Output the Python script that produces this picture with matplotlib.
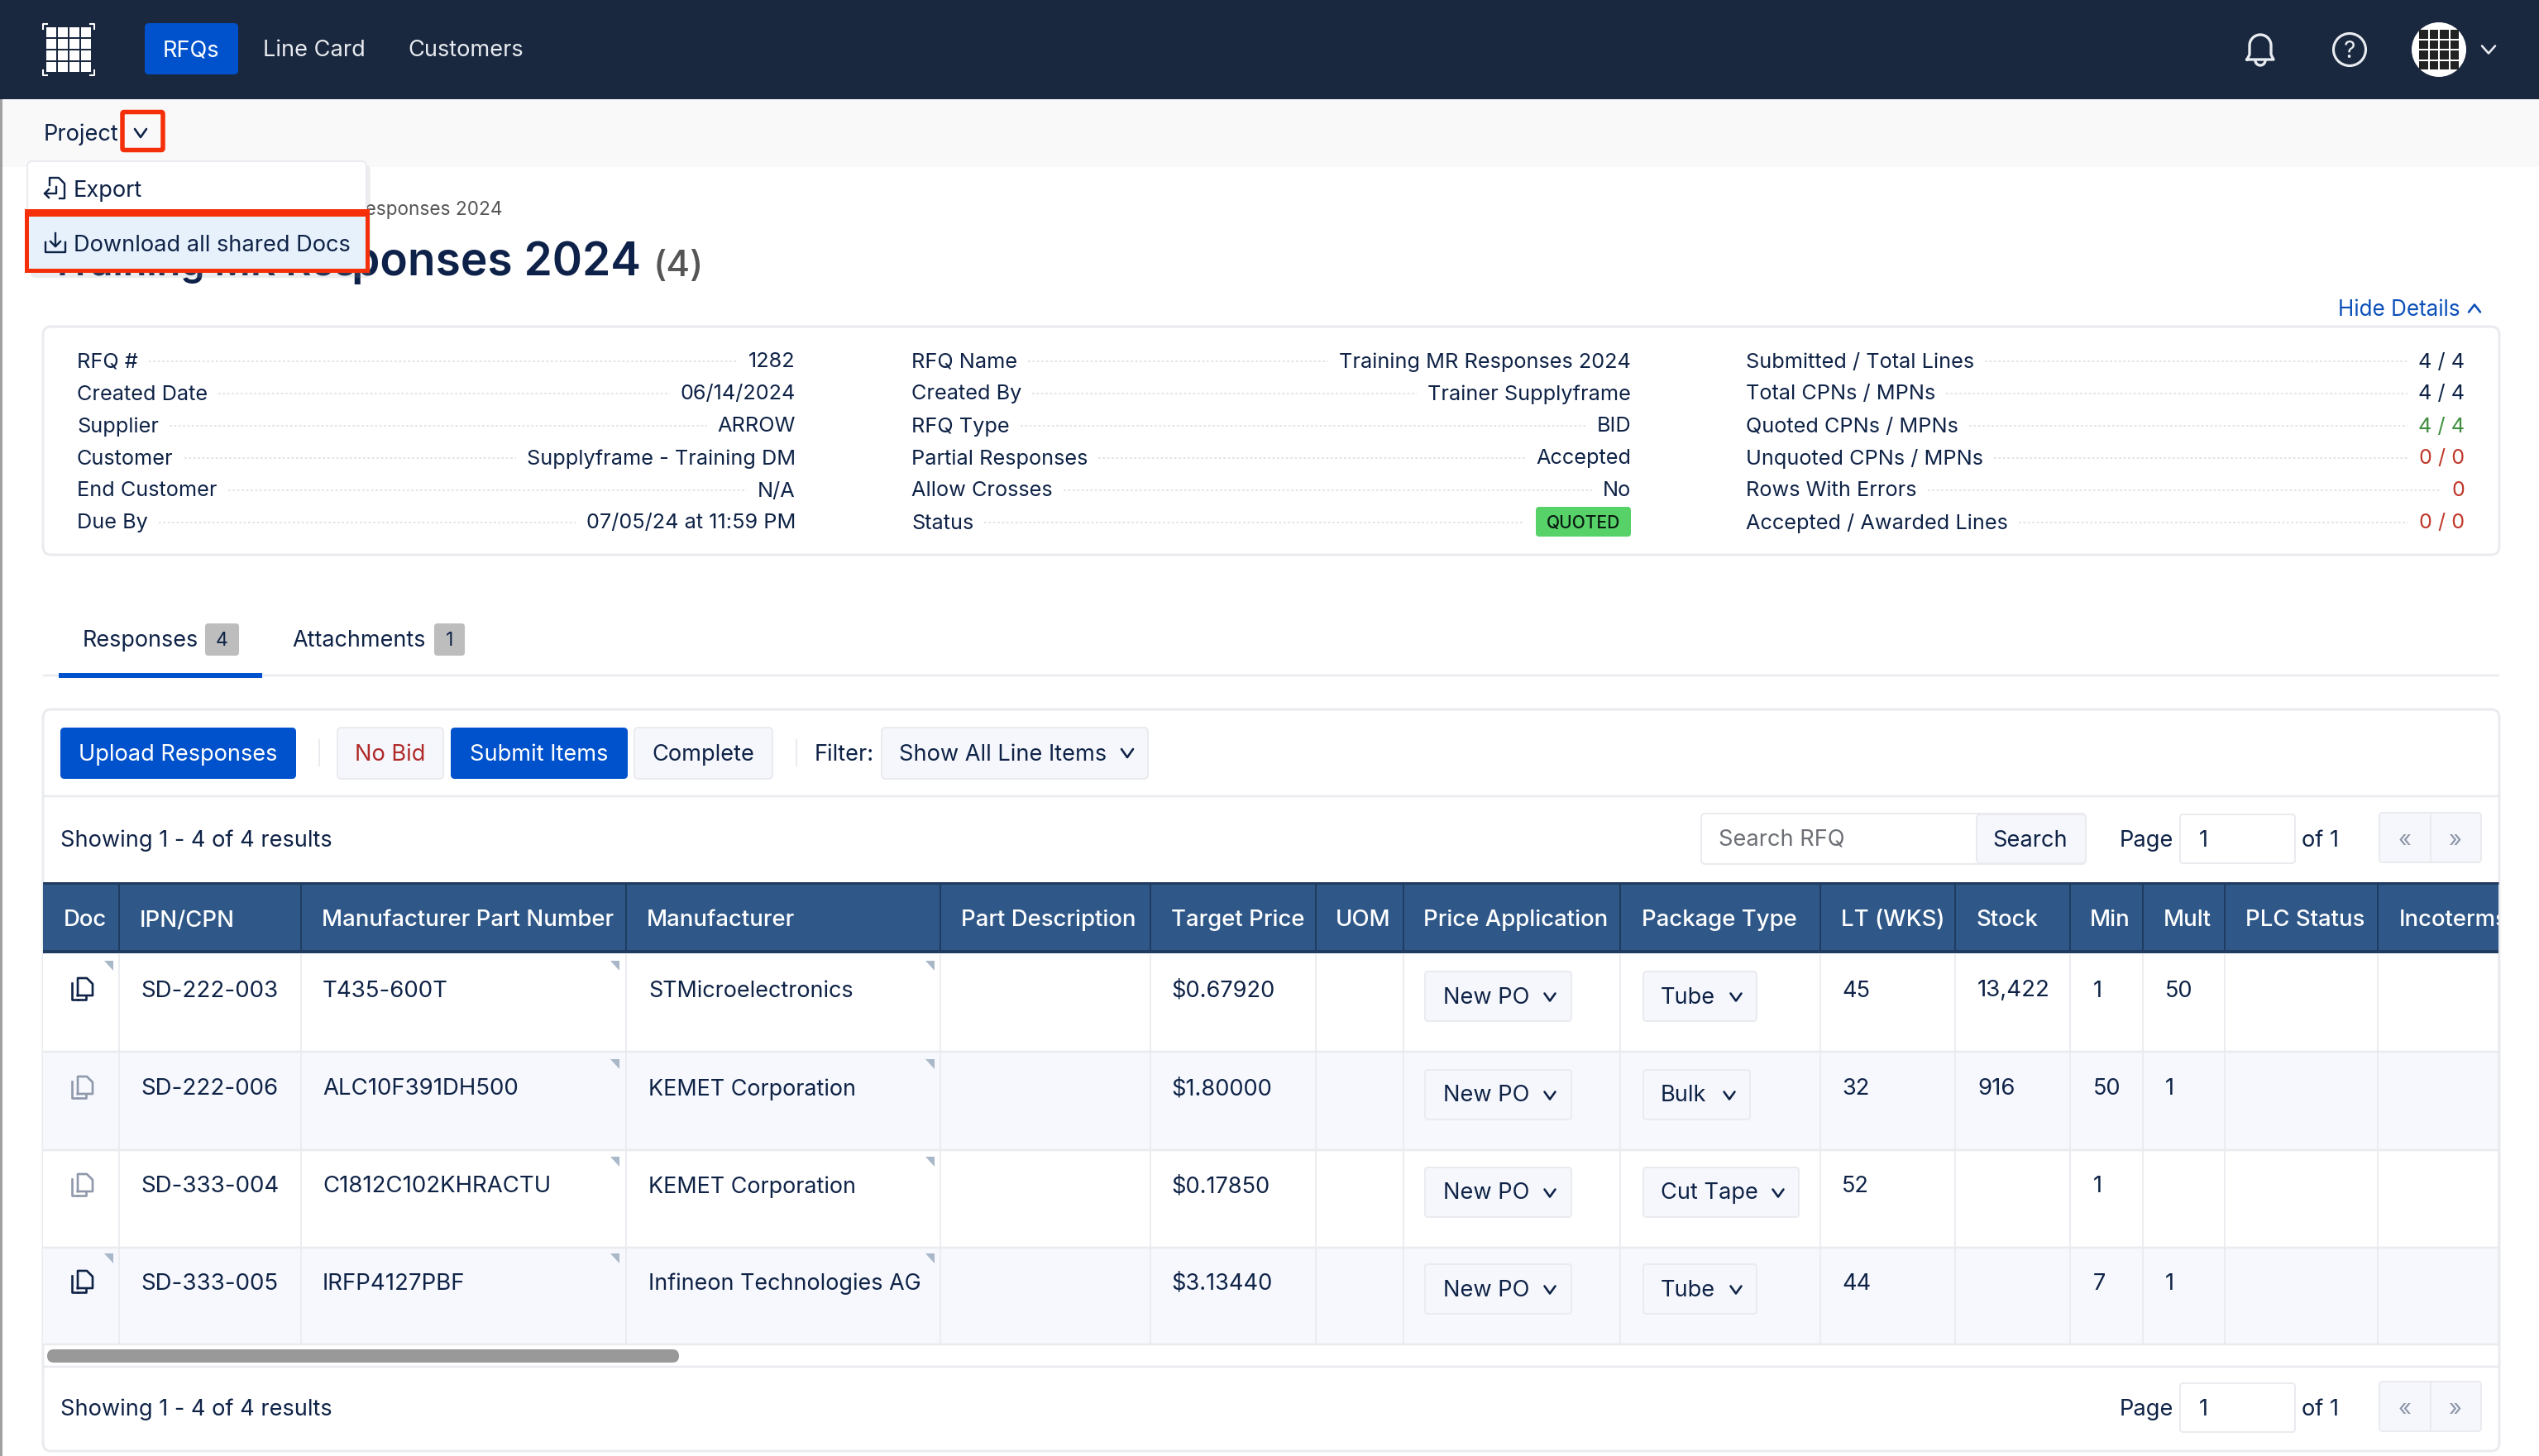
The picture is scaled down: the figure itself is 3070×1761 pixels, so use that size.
import numpy as np
import matplotlib
matplotlib.use("Agg")
import matplotlib.pyplot as plt
from matplotlib.patches import FancyBboxPatch, Rectangle, Circle, Polygon

# page content
nav_items = ["RFQs", "Line Card", "Customers"]
menu_items = ["Export", "Download all shared Docs"]
breadcrumb = "Training MR Responses 2024"
title_hidden = "Training MR Res"
title_visible = "ponses 2024"
title_count = "(4)"

detail_labels_1 = ["RFQ #", "Created Date", "Supplier", "Customer", "End Customer", "Due By"]
detail_values_1 = ["1282", "06/14/2024", "ARROW", "Supplyframe - Training DM", "N/A", "07/05/24 at 11:59 PM"]
detail_labels_2 = ["RFQ Name", "Created By", "RFQ Type", "Partial Responses", "Allow Crosses", "Status"]
detail_values_2 = ["Training MR Responses 2024", "Trainer Supplyframe", "BID", "Accepted", "No", "QUOTED"]
detail_labels_3 = ["Submitted / Total Lines", "Total CPNs / MPNs", "Quoted CPNs / MPNs",
                   "Unquoted CPNs / MPNs", "Rows With Errors", "Accepted / Awarded Lines"]
detail_values_3 = ["4 / 4", "4 / 4", "4 / 4", "0 / 0", "0", "0 / 0"]

columns = ["Doc", "IPN/CPN", "Manufacturer Part Number", "Manufacturer", "Part Description", "Target Price",
           "UOM", "Price Application", "Package Type", "LT (WKS)", "Stock", "Min", "Mult", "PLC Status", "Incoterms"]
ipn = ["SD-222-003", "SD-222-006", "SD-333-004", "SD-333-005"]
mpn = ["T435-600T", "ALC10F391DH500", "C1812C102KHRACTU", "IRFP4127PBF"]
manufacturer = ["STMicroelectronics", "KEMET Corporation", "KEMET Corporation", "Infineon Technologies AG"]
target_price = ["$0.67920", "$1.80000", "$0.17850", "$3.13440"]
price_app = ["New PO", "New PO", "New PO", "New PO"]
package = ["Tube", "Bulk", "Cut Tape", "Tube"]
lead_time = ["45", "32", "52", "44"]
stock = ["13,422", "916", "", ""]
min_qty = ["1", "50", "1", "7"]
mult = ["50", "1", "", "1"]
doc_dark = [True, False, False, True]

# layout, in screen pixels
col_edges = [52, 144, 364, 757, 1137, 1391, 1591, 1697, 1959, 2201, 2364, 2503, 2591, 2690, 2875, 3021]
head_x = [77, 169, 389, 782, 1162, 1416, 1615, 1721, 1985, 2226, 2389, 2527, 2616, 2715, 2901]
row_tops = [1154, 1273, 1391, 1508]
row_h = 118
package_right = [2124, 2116, 2175, 2124]

INK = "#0f2347"
LINE = "#e9ebef"
BLUE = "#0052cc"
RED = "#f52f0a"
BTN = "#f5f7fc"
BODY = 27.2
DETAIL = 25.3

plt.rcParams["font.family"] = ["Inter", "Noto Sans", "DejaVu Sans"]
fig = plt.figure(figsize=(30.70, 17.61), dpi=100, facecolor="white")
ax = fig.add_axes([0, 0, 1, 1])
ax.set_xlim(0, 3070)
ax.set_ylim(1761, 0)
ax.axis("off")


def label(x, y, s, size=BODY, color=INK, ha="left", weight="normal", z=5):
    return ax.text(x, y - 1.5, s, fontsize=size * 0.72, color=color, ha=ha, va="center_baseline",
                   fontweight=weight, zorder=z)


def box(x0, y0, x1, y1, fc="white", ec="none", r=4, lw=2, z=2):
    p = FancyBboxPatch((x0, y0), x1 - x0, y1 - y0, boxstyle="round,pad=0,rounding_size=%g" % r,
                       fc=fc, ec=ec, lw=lw * 0.72, zorder=z)
    ax.add_patch(p)
    return p


def hline(x0, x1, y, color=LINE, lw=2, z=3, **kw):
    ax.plot([x0, x1], [y, y], color=color, lw=lw * 0.72, zorder=z, solid_capstyle="butt", **kw)


def vline(x, y0, y1, color=LINE, lw=2, z=3):
    ax.plot([x, x], [y0, y1], color=color, lw=lw * 0.72, zorder=z, solid_capstyle="butt")


def chevron(x, y, w=8, h=5, color=INK, lw=2.6, up=False, z=6):
    s = -1 if up else 1
    ax.plot([x - w, x, x + w], [y - s * h, y + s * h, y - s * h], color=color, lw=lw * 0.72, zorder=z,
            solid_capstyle="round", solid_joinstyle="round")


def doc_icon(x, y, color, z=6):
    # two stacked pages
    ax.plot([x - 5, x - 5, x + 6, x + 13, x + 13, x - 5], [y + 8, y - 13, y - 13, y - 6, y + 8, y + 8],
            color=color, lw=1.9, zorder=z)
    ax.plot([x - 12, x - 12, x - 5], [y - 7, y + 13, y + 13], color=color, lw=1.9, zorder=z)
    ax.plot([x - 5, x + 5, x + 5], [y + 13, y + 13, y + 8], color=color, lw=1.9, zorder=z)


def pager(y):
    label(2563, y, "Page")
    box(2636, y - 30, 2775, y + 29, ec=LINE)
    label(2659, y, "1")
    label(2783, y, "of 1")
    box(2877, y - 32, 3000, y + 28, fc=BTN, ec=LINE)
    vline(2939, y - 32, y + 28)
    label(2908, y, "«", color="#8d97a8", ha="center")
    label(2969, y, "»", color="#8d97a8", ha="center")


# nav bar
ax.add_patch(Rectangle((0, 0), 3070, 120, fc="#19273f", ec="none", zorder=1))
ax.add_patch(Rectangle((0, 120), 3070, 82, fc="#f9f9f9", ec="none", zorder=1))
ax.add_patch(Rectangle((0, 120), 2.5, 1641, fc="#a0a0a0", ec="none", zorder=4))

for i in range(4):
    for j in range(4):
        ax.add_patch(Rectangle((56 + i * 14, 33 + j * 14), 11.5, 11.5, fc="white", ec="none", zorder=3))
for cx, cy, dx, dy in [(52, 29, 1, 1), (114, 29, -1, 1), (52, 91, 1, -1), (114, 91, -1, -1)]:
    ax.plot([cx + dx * 5, cx, cx], [cy, cy, cy + dy * 6], color="white", lw=1.5, zorder=3)

box(175, 28, 288, 90, fc=BLUE, r=5)
label(231, 60, nav_items[0], color="white", ha="center")
label(318, 60, nav_items[1], color="#e8ebf0")
label(493, 60, nav_items[2], color="#e8ebf0")

# bell
t = np.linspace(np.pi, 2 * np.pi, 30)
bx = np.concatenate([[2717], [2720], 2733 + 13 * np.cos(t), [2746], [2749], [2717]])
by = np.concatenate([[72], [66], 55 + 13 * np.sin(t), [66], [72], [72]])
ax.plot(bx, by, color="#e8ebf0", lw=2.4, zorder=3, solid_joinstyle="round")
t = np.linspace(0, np.pi, 20)
ax.plot(2733 + 6 * np.cos(t), 73 + 6 * np.sin(t), color="#e8ebf0", lw=2.4, zorder=3)

ax.add_patch(Circle((2841, 60), 19.5, fc="none", ec="#e8ebf0", lw=2.4 * 0.72 * 1.3, zorder=3))
label(2841, 61, "?", size=28, color="#e8ebf0", ha="center")

ax.add_patch(Circle((2949, 60), 33, fc="white", ec="none", zorder=3))
for i in range(4):
    for j in range(4):
        ax.add_patch(Rectangle((2925 + i * 12.5, 36 + j * 12.5), 10.5, 10.5, fc="#222222", ec="none", zorder=4))
chevron(3009, 60, w=8, h=4.5, color="#e8ebf0")

# project menu
label(53, 161, "Project", z=7)
chevron(170, 161, w=7, h=5)
box(148, 135.5, 197, 181.5, fc="none", ec=RED, r=2, lw=5.5, z=8)

label(608, 253, breadcrumb, size=22.6, color="#555555", ha="right", z=2)
title_base = 333
ax.text(60, title_base, title_hidden, fontsize=47 * 0.72, color="#0d2149", ha="left", va="baseline",
        fontweight="semibold", zorder=2)
ax.text(775, title_base, title_visible, fontsize=55 * 0.72, color="#0d2149", ha="right", va="baseline",
        fontweight="semibold", zorder=2)
label(790, 319, title_count, size=44, color="#555555", weight="medium", z=2)
label(2827, 373, "Hide Details", size=26, color="#0b4fb8")
chevron(2992, 373, w=7, h=4.5, color="#0b4fb8", up=True)

box(37, 200, 448, 336, fc="#9aa0aa", r=6, z=5).set_alpha(0.18)
box(33, 195, 443, 327, fc="white", ec=LINE, r=6, z=6)
ax.add_patch(Rectangle((30, 253), 417, 77, fc=RED, ec="none", zorder=6.5))
ax.add_patch(Rectangle((35, 262), 407, 63, fc="#e6f1fc", ec="none", zorder=6.6))
# export icon
ax.plot([60, 60, 71, 78, 78, 72], [224, 215, 215, 222, 240, 240], color=INK, lw=1.7, zorder=7)
ax.plot([68, 68, 54], [226, 234, 234], color=INK, lw=1.7, zorder=7)
ax.plot([59, 54, 59], [229, 234, 239], color=INK, lw=1.7, zorder=7)
# download icon
ax.plot([55, 55, 79, 79], [293, 305, 305, 293], color=INK, lw=1.7, zorder=7)
ax.plot([67, 67], [282, 298], color=INK, lw=1.7, zorder=7)
ax.plot([61, 67, 73], [292, 298, 292], color=INK, lw=1.7, zorder=7)
label(89, 230, menu_items[0], z=7)
label(89, 295, menu_items[1], z=7)

# details panel
box(52, 395, 3022, 671, ec=LINE, r=10, lw=3, z=1)
fig.canvas.draw()
renderer = fig.canvas.get_renderer()
detail_cols = [(93, 962, detail_labels_1, detail_values_1),
               (1102, 1972, detail_labels_2, detail_values_2),
               (2111, 2980, detail_labels_3, detail_values_3)]
row_ys = [437, 476, 515, 554, 593, 632]
for x0, x1, names, values in detail_cols:
    for y, name, val in zip(row_ys, names, values):
        a = label(x0, y, name, size=DETAIL)
        color = INK
        if names is detail_labels_3:
            if name.startswith("Quoted"):
                color = "#3f8f3f"
            elif val.startswith("0"):
                color = "#c0392b"
        if val == "QUOTED":
            box(1857, 613, 1972, 649, fc="#57d268", r=4)
            label(1914.5, 632, val, size=21, color="#0a1a12", ha="center", weight="medium")
            right = 1843
        else:
            b = label(x1, y, val, size=DETAIL, ha="right", color=color)
            right = ax.transData.inverted().transform(b.get_window_extent(renderer))[0][0] - 13
        left = ax.transData.inverted().transform(a.get_window_extent(renderer))[1][0] + 13
        hline(left, right, y, color="#dfe1e6", lw=1.8, z=2, linestyle=(0, (1.5, 1.5)))

# tabs
label(100, 773, "Responses", size=27)
box(248, 754, 289, 793, fc="#bdbdbd", r=4)
label(268.5, 774, "4", size=23, ha="center")
label(353, 773, "Attachments", size=27)
box(525, 754, 562, 793, fc="#bdbdbd", r=4)
label(543.5, 774, "1", size=23, ha="center")
hline(52, 3022, 817, lw=2.5)
ax.add_patch(Rectangle((71, 814), 246, 6, fc=BLUE, ec="none", zorder=4))

# table card and toolbar
box(52, 858, 3022, 1755, ec=LINE, r=10, lw=3, z=1)
box(73, 880, 358, 942, fc=BLUE, r=5)
label(215.5, 911, "Upload Responses", color="white", ha="center")
vline(386, 894, 927)
box(408, 880, 536, 942, fc=BTN, ec=LINE, r=5)
label(472, 911, "No Bid", color="#b02a2a", ha="center")
box(545, 880, 759, 942, fc=BLUE, r=5)
label(652, 911, "Submit Items", color="white", ha="center")
box(767, 880, 934, 942, fc=BTN, ec=LINE, r=5)
label(850.5, 911, "Complete", ha="center")
vline(963, 894, 927)
label(985, 911, "Filter:")
box(1066, 880, 1388, 942, fc=BTN, ec=LINE, r=5)
label(1087, 911, "Show All Line Items", size=27.2)
chevron(1363, 911, w=7, h=5)
hline(52, 3022, 963, lw=2.5)

label(73, 1015, "Showing 1 - 4 of 4 results")
box(2057, 984, 2522, 1045, ec=LINE, r=5)
box(2390, 985, 2522, 1044, fc=BTN, ec=LINE, r=5)
label(2078, 1014, "Search RFQ", color="#6c6f75")
label(2455, 1015, "Search", ha="center")
pager(1015)

# table
for top, i in zip(row_tops, range(4)):
    ax.add_patch(Rectangle((52, top), 2969, row_h, fc="#f6f8fd" if i % 2 else "white", ec="none", zorder=1.5))
    hline(52, 3021, top + row_h, lw=2.5)
for x in col_edges[1:]:
    vline(x, 1154, 1627, lw=1.8)

ax.add_patch(Rectangle((52, 1067), 2969, 85, fc="#2f5889", ec="none", zorder=3))
hline(52, 3021, 1068, color="#1f3c60", lw=3, z=4)
hline(52, 3021, 1151, color="#1f3c60", lw=4, z=4)
for x in col_edges[1:-1]:
    vline(x, 1067, 1151, color="#1f3c60", lw=2, z=4)
clip = Rectangle((52, 1060), 2969, 100, transform=ax.transData)
for x, name in zip(head_x, columns):
    h = label(x, 1112, name, size=27.5, color="white", weight="medium")
    h.set_clip_path(clip)
    h.set_clip_on(True)

text_cols = [(ipn, 170, 27.7), (mpn, 390, 27.6), (manufacturer, 784, 26.9), (target_price, 1416, 27.2),
             (lead_time, 2227, 27.2), (stock, 2391, 27.6), (min_qty, 2531, 27.2), (mult, 2618, 27.2)]
for i, top in enumerate(row_tops):
    for values, x, size in text_cols:
        label(x, top + 43, values[i], size=size)
    doc_icon(99, top + 42, INK if doc_dark[i] else "#8f98ab")
    box(1723, top + 21, 1900, top + 81, fc=BTN, ec=LINE, r=4)
    label(1745, top + 51, price_app[i], size=27.2)
    chevron(1874, top + 52, w=6.5, h=4.5)
    box(1987, top + 21, package_right[i], top + 81, fc=BTN, ec=LINE, r=4)
    label(2008, top + 51, package[i], size=27.2)
    chevron(package_right[i] - 25, top + 52, w=6.5, h=4.5)
    corner_cols = [749, 1130]
    if doc_dark[i]:
        corner_cols = [137] + corner_cols
    for r in corner_cols:
        ax.add_patch(Polygon([(r - 11, top + 8), (r, top + 8), (r, top + 20)], fc="#a9b8c8", ec="none", zorder=5))

# scrollbar and footer
box(57, 1632, 821, 1648, fc="#999999", r=8, z=4)
hline(52, 3022, 1653, lw=2.5)
label(73, 1703, "Showing 1 - 4 of 4 results")
pager(1703)

fig.savefig("out.png", dpi=100, facecolor="white")
